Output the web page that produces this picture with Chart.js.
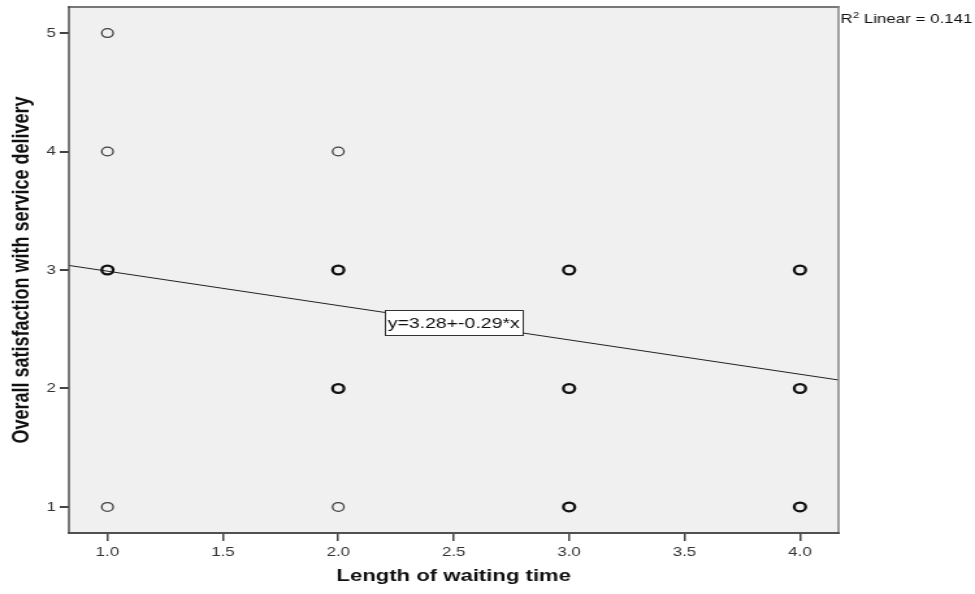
<!DOCTYPE html>
<html>
<head>
<meta charset="utf-8">
<script src="https://cdn.jsdelivr.net/npm/chart.js@4.4.1/dist/chart.umd.min.js"></script>
<style>
  html, body { margin: 0; padding: 0; background: #ffffff; overflow: hidden; }
  #wrap { width: 750px; height: 594px; transform: scaleX(1.3); transform-origin: 0 0; }
</style>
</head>
<body>
<div id="wrap"><canvas id="c" width="750" height="594"></canvas></div>
<script>
// ---- data ----
const xTitle = 'Length of waiting time';
const yTitle = 'Overall satisfaction with service delivery';
const xTicks = [1.0, 1.5, 2.0, 2.5, 3.0, 3.5, 4.0];
const yTicks = [1, 2, 3, 4, 5];
// cases drawn with a single (light) marker
const singleX = [1, 1, 1, 2, 2];
const singleY = [5, 4, 1, 4, 1];
// cases drawn with overlapping (dark) markers
const multiX = [1, 2, 2, 3, 3, 3, 4, 4, 4];
const multiY = [3, 3, 2, 3, 2, 1, 3, 2, 1];
// linear fit
const fitIntercept = 3.28;
const fitSlope = -0.29;
const fitLabel = 'y=3.28+-0.29*x';
const r2Value = '0.141';
const xRange = [0.833, 4.167];
const yRange = [0.78, 5.22];

const FONT = '"Liberation Sans", Arial, sans-serif';

const toPts = (xs, ys) => xs.map((x, i) => ({ x: x, y: ys[i] }));
const fitLine = xRange.map(x => ({ x: x, y: fitIntercept + fitSlope * x }));

const framePlugin = {
  id: 'frame',
  beforeDraw(chart) {
    const { ctx, chartArea: a } = chart;
    ctx.save();
    ctx.fillStyle = '#ffffff';
    ctx.fillRect(0, 0, chart.width, chart.height);
    ctx.fillStyle = '#f0f0f0';
    ctx.fillRect(a.left, a.top, a.right - a.left, a.bottom - a.top);
    ctx.restore();
  },
  afterDatasetsDraw(chart) {
    const { ctx, chartArea: a, scales } = chart;
    ctx.save();
    // fit label box, centred on the line at x = 2.5
    const lx = 2.5;
    const px = scales.x.getPixelForValue(lx);
    const py = scales.y.getPixelForValue(fitIntercept + fitSlope * lx);
    ctx.font = '15px ' + FONT;
    const tw = ctx.measureText(fitLabel).width;
    const bw = tw + 4, bh = 25;
    ctx.fillStyle = '#ffffff';
    ctx.fillRect(px - bw / 2, py - bh / 2, bw, bh);
    ctx.strokeStyle = '#333333';
    ctx.lineWidth = 1;
    ctx.strokeRect(Math.round(px - bw / 2) + 0.5, Math.round(py - bh / 2) + 0.5, Math.round(bw), bh);
    ctx.fillStyle = '#111111';
    ctx.textAlign = 'center';
    ctx.textBaseline = 'middle';
    ctx.fillText(fitLabel, px, py + 1);

    // frame
    ctx.lineCap = 'square';
    ctx.strokeStyle = '#777777';
    ctx.lineWidth = 2;
    ctx.beginPath(); ctx.moveTo(a.left, a.top); ctx.lineTo(a.right, a.top); ctx.stroke();
    ctx.strokeStyle = '#8a8a8a';
    ctx.lineWidth = 1.6;
    ctx.beginPath(); ctx.moveTo(a.right, a.top); ctx.lineTo(a.right, a.bottom); ctx.stroke();
    ctx.strokeStyle = '#505050';
    ctx.lineWidth = 1.5;
    ctx.beginPath(); ctx.moveTo(a.left, a.top); ctx.lineTo(a.left, a.bottom); ctx.stroke();
    ctx.lineWidth = 2;
    ctx.beginPath(); ctx.moveTo(a.left, a.bottom); ctx.lineTo(a.right, a.bottom); ctx.stroke();

    // R squared note
    ctx.fillStyle = '#111111';
    ctx.textAlign = 'left';
    ctx.textBaseline = 'alphabetic';
    let x0 = a.right + 1.5;
    const base = 23;
    ctx.font = '13px ' + FONT;
    ctx.fillText('R', x0, base);
    x0 += ctx.measureText('R').width;
    ctx.font = '9px ' + FONT;
    ctx.fillText('2', x0, base - 5);
    x0 += ctx.measureText('2').width;
    ctx.font = '13px ' + FONT;
    ctx.fillText(' Linear = ' + r2Value, x0, base);
    ctx.restore();
  }
};

new Chart(document.getElementById('c'), {
  type: 'scatter',
  data: {
    datasets: [
      {
        type: 'line',
        data: fitLine,
        borderColor: '#222222',
        borderWidth: 1,
        pointRadius: 0,
        fill: false,
        order: 3
      },
      {
        data: toPts(singleX, singleY),
        pointStyle: 'circle',
        pointRadius: 4.4,
        borderWidth: 1.3,
        borderColor: '#404040',
        backgroundColor: 'rgba(0,0,0,0)',
        order: 2
      },
      {
        data: toPts(multiX, multiY),
        pointStyle: 'circle',
        pointRadius: 4.4,
        borderWidth: 2.3,
        borderColor: '#111111',
        backgroundColor: 'rgba(0,0,0,0)',
        order: 1
      }
    ]
  },
  options: {
    responsive: false,
    animation: false,
    events: [],
    layout: { padding: { left: 0, top: 7, right: 105, bottom: 0 } },
    plugins: { legend: { display: false }, tooltip: { enabled: false }, title: { display: false } },
    scales: {
      x: {
        type: 'linear',
        min: xRange[0],
        max: xRange[1],
        afterBuildTicks: s => { s.ticks = xTicks.map(v => ({ value: v })); },
        afterFit: s => { s.height = 61; s.paddingLeft = 0; s.paddingRight = 0; },
        border: { display: false },
        grid: { display: true, drawOnChartArea: false, drawTicks: true, tickLength: 8, color: '#444444', lineWidth: 1.5 },
        ticks: {
          padding: 4,
          color: '#333333',
          font: { family: FONT, size: 13 },
          maxRotation: 0,
          callback: v => Number(v).toFixed(1)
        },
        title: {
          display: true,
          text: xTitle,
          color: '#111111',
          font: { family: FONT, size: 17, weight: 'bold' },
          padding: { top: 0, bottom: 7 }
        }
      },
      y: {
        type: 'linear',
        min: yRange[0],
        max: yRange[1],
        afterBuildTicks: s => { s.ticks = yTicks.map(v => ({ value: v })); },
        afterFit: s => { s.width = 53; s.paddingTop = 0; s.paddingBottom = 0; },
        border: { display: false },
        grid: { display: true, drawOnChartArea: false, drawTicks: true, tickLength: 7, color: '#444444', lineWidth: 2 },
        ticks: {
          padding: 3,
          color: '#333333',
          font: { family: FONT, size: 13 },
          callback: v => String(v)
        },
        title: {
          display: true,
          text: yTitle,
          color: '#111111',
          font: { family: FONT, size: 18, weight: 'bold' },
          padding: { top: 6, bottom: 0 }
        }
      }
    }
  },
  plugins: [framePlugin]
});
</script>
</body>
</html>
